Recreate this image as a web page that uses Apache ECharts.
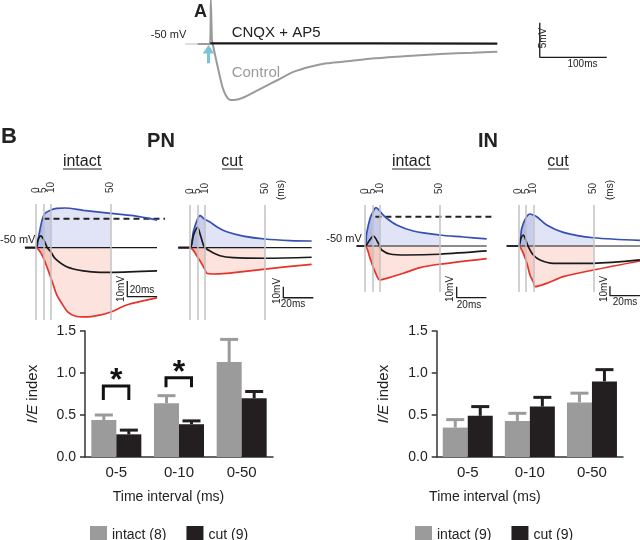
<!DOCTYPE html>
<html><head><meta charset="utf-8">
<script src="https://cdn.jsdelivr.net/npm/echarts@6/dist/echarts.min.js"></script>
<style>html,body{margin:0;padding:0;background:#fff}#c{width:640px;height:540px}</style>
</head><body><div id="c"></div>
<script>
// ================= DATA =================
// Bar charts: I/E index per time interval
const categories = ['0-5', '0-10', '0-50'];
const pnIntact    = [0.44, 0.64, 1.13];
const pnIntactErr = [0.50, 0.73, 1.40];   // top of error bar
const pnCut       = [0.27, 0.39, 0.70];
const pnCutErr    = [0.32, 0.43, 0.78];
const inIntact    = [0.35, 0.43, 0.65];
const inIntactErr = [0.445, 0.52, 0.76];
const inCut       = [0.49, 0.60, 0.90];
const inCutErr    = [0.60, 0.71, 1.04];
const yTicks = [0, 0.5, 1.0, 1.5];
const pnSig = [[0, 0.845, 0.68], [1, 0.944, 0.83]]; // [category, bracket top, leg end]
const legendLeft  = ['intact (8)', 'cut (9)'];
const legendRight = ['intact (9)', 'cut (9)'];

// Panel A traces: [ms, mV relative to -50 mV]
const aControl = [[-19.7,0],[-1.5,0],[0,6.36],[1.6,0.6],[2.6,0.1],[9.5,-3.0],[17.2,-6.17],[22.1,-7.37],[26.9,-7.99],[34.2,-8.09],[51.2,-7.62],[75.4,-6.40],[99.7,-5.20],[124,-4.00],[148.2,-3.28],[172.5,-2.79],[196.8,-2.56],[245.3,-2.07],[293.7,-1.73],[342.4,-1.45],[390.8,-1.26],[427.2,-1.11]];
const aCnqx = [[-1,0.1],[100,0.1],[250,0.08],[427.2,0.05]];

// Panel B traces: [ms, mV relative to -50 mV]; exc = blue, inh = red, net = black
const pnIntactExc = [[-7.4,0],[0,0],[1.5,6.0],[3.8,16.6],[5,20.2],[6,21.9],[10,24.0],[13.9,25.1],[19.4,25.3],[31.7,23.8],[50,21.9],[65.1,20.4],[81,17.6]];
const pnIntactInh = [[-7.4,0],[0,0],[2.7,-2.5],[5,-6.6],[6,-8.9],[10,-19.3],[11.6,-23.8],[13.9,-30.1],[17.2,-35.4],[21.4,-41.0],[26.1,-43.5],[32.8,-44.1],[42.8,-42.9],[50,-41.0],[60.7,-36.5],[81,-32.0]];
const pnIntactNet = [[-7.4,0],[0,0],[0.9,3.8],[3.1,7.5],[5,5.5],[7.6,0],[10,-2.7],[12.7,-6.8],[20.5,-12.1],[31.7,-14.8],[42.8,-15.7],[50,-15.7],[81,-14.8]];

const pnCutExc = [[-7.8,0],[0,0],[2.2,14.5],[5,26.1],[6.7,29.1],[10,25.6],[13.3,23.4],[17.8,19.1],[24.5,14.5],[35.5,10.6],[50,7.9],[66.7,6.5],[81.1,6.1]];
const pnCutInh = [[-7.8,0],[0,0],[5,-8.5],[10,-19.8],[11.1,-23.3],[15.5,-23.9],[24.5,-23.3],[35.5,-21.8],[50,-19.4],[81.1,-15.1]];
const pnCutNet = [[-7.8,0],[0,0],[2.2,11],[5,18.5],[7.3,9.7],[9.5,0.9],[13.3,-3.0],[20,-7.3],[28.9,-9.1],[50,-9.6],[81.1,-8.7]];

const inIntactExc = [[-5.6,0],[0,0],[1.1,11.5],[3.4,25.2],[5,30],[7.4,34.8],[10,31.8],[11.2,29.7],[14.6,25.2],[21.3,19.1],[32.5,13.6],[50,10],[66.2,8.2],[81.9,6.4]];
const inIntactInh = [[-5.6,0],[0,0],[3.4,-11.2],[5,-17.3],[6.7,-23.4],[10,-30.9],[14.6,-29.4],[25.8,-24.8],[37,-19.7],[50,-16.6],[81.9,-11.4]];
const inIntactNet = [[-5.6,0],[0,0],[2.7,4.5],[5.6,9.1],[9,2.5],[10,-0.5],[11.2,-3.6],[16.8,-7.3],[28.1,-8.2],[50,-7.5],[81.9,-4.5]];

const inCutExc = [[-7.7,0],[0,0],[2.3,18.6],[5,29.5],[7.8,33.7],[10,32.6],[12.3,30.8],[18.9,22.1],[30,14.4],[50,8.7],[81.1,6.0]];
const inCutInh = [[-7.7,0],[0,0],[5,-14.7],[7.8,-30.5],[10,-37.9],[11.1,-42.8],[18.9,-39.3],[30,-32.3],[50,-25.3],[81.1,-15.8]];
const inCutNet = [[-7.7,0],[0,0],[1.8,8.4],[3.3,11.6],[5,6.3],[6.7,-0.7],[10,-9.5],[14.5,-14.7],[23.3,-18.2],[50,-18.2],[81.1,-14.7]];

const markTimes = [0, 5, 10, 50];
const fillLimits = [50, 10, 5];

// ================= LAYOUT / STYLE =================
const FONT = '"Liberation Sans", Arial, Helvetica, sans-serif';
const BLUE = '#3550b4', RED = '#e5332a', BLK = '#1a1a1a';
const BLUE_FILL = 'rgba(80,92,200,0.24)', RED_FILL = 'rgba(238,88,58,0.24)';
const GRAY_BAR = '#9b9b9b', BLACK_BAR = '#231f20';

const panels = [
  {t0:36,    ppm:1.494, base:247.7, ppv:1.57, top:204, bottom:320, tMin:-10, tMax:85, exc:pnIntactExc, inh:pnIntactInh, net:pnIntactNet, span:[-7.4,81],  sb:[61.1,-31.2], dash:[5,106.4,18.4]},
  {t0:190,   ppm:1.5,   base:247.7, ppv:1.1,  top:205, bottom:320, tMin:-10, tMax:85, exc:pnCutExc,    inh:pnCutInh,    net:pnCutNet,    span:[-7.8,81.1], sb:[62.2,-45.5]},
  {t0:365,   ppm:1.486, base:246,   ppv:1.1,  top:205, bottom:292, tMin:-10, tMax:85, exc:inIntactExc, inh:inIntactInh, net:inIntactNet, span:[-5.6,81.9], sb:[61.7,-47.0], dash:[7,104.3,26.6]},
  {t0:518.3, ppm:1.5,   base:246,   ppv:0.95, top:205, bottom:292, tMin:-10, tMax:80, exc:inCutExc,    inh:inCutInh,    net:inCutNet,    span:[-7.7,81.1], sb:[61.1,-52.3]}
];

const grid = [], xAxis = [], yAxis = [], series = [];

// ---- Panel A ----
const A = {t0:211.5, ppm:0.687, base:44, ppv:6.92, tMin:-40, tMax:640, vMin:-10, vMax:6.36};
grid.push({left:A.t0 + A.tMin*A.ppm, width:(A.tMax-A.tMin)*A.ppm, top:A.base - A.vMax*A.ppv, height:(A.vMax-A.vMin)*A.ppv});
xAxis.push({gridIndex:0, type:'value', min:A.tMin, max:A.tMax, show:false});
yAxis.push({gridIndex:0, type:'value', min:A.vMin, max:A.vMax, show:false});
const lineBase = {type:'line', symbol:'none', silent:true, clip:false, animation:false};
series.push(Object.assign({}, lineBase, {xAxisIndex:0, yAxisIndex:0, data:[[-38,0],[-1,0]], lineStyle:{color:'#aaaaaa', width:0.8}, z:2}));
series.push(Object.assign({}, lineBase, {xAxisIndex:0, yAxisIndex:0, data:aControl, smooth:0.25, lineStyle:{color:'#9a9a9a', width:2}, z:3}));
series.push(Object.assign({}, lineBase, {xAxisIndex:0, yAxisIndex:0, data:aCnqx, lineStyle:{color:BLK, width:2.2}, z:4}));
series.push(Object.assign({}, lineBase, {xAxisIndex:0, yAxisIndex:0, data:[[490.5,3.08],[490.5,-1.92],[590.5,-1.92]], lineStyle:{color:BLK, width:1.3}, z:4}));

// ---- Panel B traces ----
panels.forEach((p, k) => {
  const gi = k + 1;
  grid.push({left:p.t0 + p.tMin*p.ppm, width:(p.tMax-p.tMin)*p.ppm, top:p.top, height:p.bottom-p.top});
  xAxis.push({gridIndex:gi, type:'value', min:p.tMin, max:p.tMax, interval:5, position:'top',
    axisLine:{show:false}, axisTick:{show:false}, splitLine:{show:false},
    axisLabel:{rotate:90, margin:11, fontSize:10, color:'#333', fontFamily:FONT,
      formatter:v => markTimes.indexOf(Math.round(v*1000)/1000) >= 0 ? String(Math.round(v)) : ''}});
  yAxis.push({gridIndex:gi, type:'value', min:-(p.bottom-p.base)/p.ppv, max:(p.base-p.top)/p.ppv, show:false});
  const ax = {xAxisIndex:gi, yAxisIndex:gi};
  // vertical time markers
  series.push(Object.assign({}, lineBase, ax, {data:[], z:1,
    markLine:{silent:true, symbol:['none','none'], label:{show:false}, animation:false,
      lineStyle:{color:'#c2c2c2', width:1.5, type:'solid'}, data:markTimes.map(t => ({xAxis:t}))}}));
  // fills
  [[p.exc, BLUE_FILL], [p.inh, RED_FILL]].forEach(([tr, col]) => {
    fillLimits.forEach(lim => {
      series.push(Object.assign({}, lineBase, ax, {data:tr.filter(q => q[0] >= 0 && q[0] <= lim), smooth:0.3,
        lineStyle:{width:0, opacity:0}, areaStyle:{color:col, origin:'auto'}, z:2}));
    });
  });
  // baseline
  series.push(Object.assign({}, lineBase, ax, {data:[[p.span[0],0],[p.span[1],0]], lineStyle:{color:BLK, width:1.2}, z:3}));
  if (p.dash) {
    series.push(Object.assign({}, lineBase, ax, {data:[[p.dash[0],p.dash[2]],[p.dash[1],p.dash[2]]],
      lineStyle:{color:'#222', width:2, type:[6,4]}, z:3}));
  }
  // traces
  [[p.inh, RED], [p.exc, BLUE], [p.net, BLK]].forEach(([tr, col]) => {
    series.push(Object.assign({}, lineBase, ax, {data:tr, smooth:0.3, lineStyle:{color:col, width:1.7}, z:4}));
  });
  // scale bar 10 mV / 20 ms
  series.push(Object.assign({}, lineBase, ax, {data:[[p.sb[0],p.sb[1]+10],[p.sb[0],p.sb[1]],[p.sb[0]+20,p.sb[1]]],
    lineStyle:{color:BLK, width:1.3}, z:4}));
});

// ---- Bar charts ----
const barGrids = [{left:85, width:188, top:331, height:126, namePad:21}, {left:436.7, width:186.3, top:331, height:126, namePad:90}];
barGrids.forEach((g, j) => {
  const gi = 5 + j;
  grid.push({left:g.left, width:g.width, top:g.top, height:g.height});
  xAxis.push({gridIndex:gi, type:'category', data:categories,
    axisLine:{lineStyle:{color:'#333', width:1.5}}, axisTick:{show:false},
    axisLabel:{fontSize:15, color:'#222', margin:8, fontFamily:FONT},
    name:'Time interval (ms)', nameLocation:'middle', nameGap:33,
    nameTextStyle:{fontSize:14, color:'#222', fontFamily:FONT, padding:[0, g.namePad, 0, 0]}});
  yAxis.push({gridIndex:gi, type:'value', min:yTicks[0], max:yTicks[yTicks.length-1], interval:yTicks[1]-yTicks[0],
    axisLine:{show:true, lineStyle:{color:'#333', width:1.5}}, axisTick:{show:true, length:5, lineStyle:{color:'#333', width:1.5}},
    splitLine:{show:false},
    axisLabel:{fontSize:14, color:'#222', margin:9, fontFamily:FONT, formatter:v => v.toFixed(1)},
    name:'{i|I/E} index', nameLocation:'middle', nameGap:45, nameRotate:90,
    nameTextStyle:{fontSize:15, color:'#222', fontFamily:FONT, rich:{i:{fontStyle:'italic', fontSize:15, color:'#222', fontFamily:FONT}}}});
});

function barS(name, data, color, gi) {
  return {type:'bar', name, data, xAxisIndex:gi, yAxisIndex:gi, barWidth:25, barGap:'0%',
    itemStyle:{color}, z:2, silent:true, animation:false};
}
function errS(vals, tops, color, gi, off) {
  return {type:'custom', xAxisIndex:gi, yAxisIndex:gi, z:3, silent:true, animation:false,
    data: vals.map((v, i) => [i, v, tops[i]]),
    renderItem(params, api) {
      const p0 = api.coord([api.value(0), api.value(1)]);
      const p1 = api.coord([api.value(0), api.value(2)]);
      const x = p0[0] + off;
      return {type:'group', children:[
        {type:'line', shape:{x1:x, y1:p0[1], x2:x, y2:p1[1]}, style:{stroke:color, lineWidth:3}},
        {type:'line', shape:{x1:x-9, y1:p1[1], x2:x+9, y2:p1[1]}, style:{stroke:color, lineWidth:3}}
      ]};
    }};
}
series.push(barS(legendLeft[0], pnIntact, GRAY_BAR, 5), barS(legendLeft[1], pnCut, BLACK_BAR, 5));
series.push(errS(pnIntact, pnIntactErr, GRAY_BAR, 5, -12.5), errS(pnCut, pnCutErr, BLACK_BAR, 5, 12.5));
series.push(barS(legendRight[0], inIntact, GRAY_BAR, 6), barS(legendRight[1], inCut, BLACK_BAR, 6));
series.push(errS(inIntact, inIntactErr, GRAY_BAR, 6, -12.5), errS(inCut, inCutErr, BLACK_BAR, 6, 12.5));
// significance brackets
series.push({type:'custom', xAxisIndex:5, yAxisIndex:5, z:4, silent:true, animation:false, data:pnSig,
  renderItem(params, api) {
    const c = api.coord([api.value(0), api.value(1)]);
    const b = api.coord([api.value(0), api.value(2)]);
    const x1 = c[0] - 13, x2 = c[0] + 12.5;
    return {type:'group', children:[
      {type:'polyline', shape:{points:[[x1,b[1]],[x1,c[1]],[x2,c[1]],[x2,b[1]]]}, style:{stroke:'#111', lineWidth:3, fill:null}},
      {type:'text', x:c[0], y:c[1]-5, style:{text:'*', fill:'#111', font:'bold 32px ' + FONT, align:'center', verticalAlign:'middle', textAlign:'center', textVerticalAlign:'middle'}}
    ]};
  }});

// ---- Text annotations ----
function txt(text, x, y, size, o) {
  o = o || {};
  return {type:'text', x, y, rotation:o.rot || 0, silent:true, z:10,
    style:{text, fill:o.color || '#222', font:(o.weight || 'normal') + ' ' + size + 'px ' + FONT,
      align:o.align || 'center', verticalAlign:'middle', textAlign:o.align || 'center', textVerticalAlign:'middle'}};
}
function uline(x1, x2, y) {
  return {type:'line', silent:true, z:10, shape:{x1, y1:y, x2, y2:y}, style:{stroke:'#222', lineWidth:1}};
}
const R90 = Math.PI / 2;
const graphic = [
  txt('A', 207, 12, 18, {weight:'bold', align:'right'}),
  txt('-50 mV', 168.5, 35, 11),
  txt('CNQX + AP5', 231.7, 33, 15, {align:'left'}),
  txt('Control', 231.7, 72.5, 15, {align:'left', color:'#9a9a9a'}),
  txt('5mV', 543, 38, 10, {rot:R90}),
  txt('100ms', 582.5, 64.5, 10),
  txt('B', 9, 137, 22, {weight:'bold'}),
  txt('PN', 161, 141, 20, {weight:'bold'}),
  txt('IN', 488, 141, 20, {weight:'bold'}),
  txt('intact', 82, 162, 16), uline(63, 102, 169),
  txt('cut', 232, 162, 16), uline(222, 243, 169),
  txt('intact', 411, 162, 16), uline(392, 431, 169),
  txt('cut', 558, 162, 16), uline(548, 569, 169),
  txt('-50 mV', 0, 240, 11, {align:'left'}),
  txt('-50 mV', 344, 238.5, 11),
  txt('(ms)', 281, 190, 10, {rot:R90}),
  txt('(ms)', 610, 190, 10, {rot:R90}),
  txt('10mV', 121, 289, 10, {rot:R90}), txt('20ms', 142, 290, 10),
  txt('10mV', 277, 291, 10, {rot:R90}), txt('20ms', 293, 304, 10),
  txt('10mV', 450, 289, 10, {rot:R90}), txt('20ms', 469, 305, 10),
  txt('10mV', 604, 289, 10, {rot:R90}), txt('20ms', 625, 302, 10),
  // stimulus arrow
  {type:'polygon', silent:true, z:10, shape:{points:[[208.5,45],[202.7,53.5],[214.3,53.5]]}, style:{fill:'#78c4d8'}},
  {type:'rect', silent:true, z:10, shape:{x:207, y:53, width:3, height:10.3}, style:{fill:'#78c4d8'}}
];

const legendCommon = {icon:'rect', itemWidth:17, itemHeight:19, itemGap:20, top:521, selectedMode:false,
  textStyle:{fontSize:14, color:'#222', fontFamily:FONT}};

const chart = echarts.init(document.getElementById('c'), null, {renderer:'canvas'});
chart.setOption({
  animation:false,
  backgroundColor:'#fff',
  textStyle:{fontFamily:FONT},
  grid, xAxis, yAxis, series, graphic,
  legend:[Object.assign({}, legendCommon, {left:85, data:legendLeft}),
          Object.assign({}, legendCommon, {left:410, data:legendRight})]
});
</script></body></html>
